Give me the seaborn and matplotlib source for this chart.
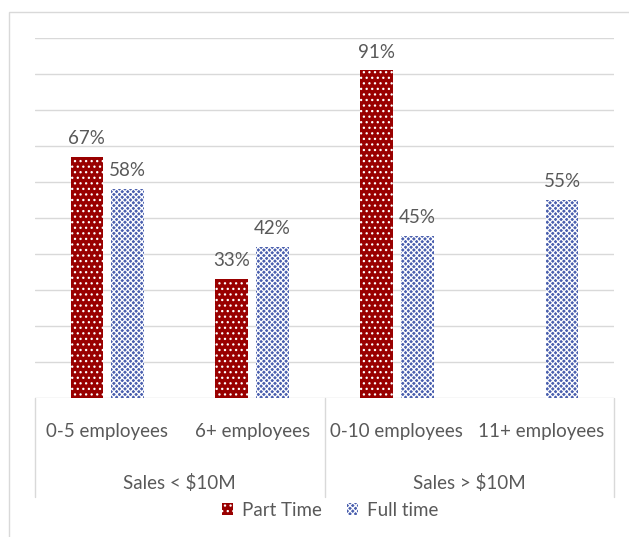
import matplotlib
matplotlib.use("Agg")
import matplotlib.pyplot as plt
import matplotlib.transforms as mtransforms
from matplotlib.patches import Patch, Rectangle
import numpy as np
import pandas as pd
import seaborn as sns

categories = ["0-5 employees", "6+ employees", "0-10 employees", "11+ employees"]
groups = ["Sales < $10M", "Sales > $10M"]
part_time = [67, 33, 91, np.nan]
full_time = [58, 42, 45, 55]
series = ["Part Time", "Full time"]

df = pd.DataFrame({
    "category": categories * 2,
    "value": part_time + full_time,
    "series": [series[0]] * 4 + [series[1]] * 4,
})

sns.set_theme(style="white")
plt.rcParams["font.family"] = ["Lato", "DejaVu Sans"]
plt.rcParams["hatch.linewidth"] = 0.9

text_color = "#595959"
grid_color = "#d9d9d9"
red = "#990000"
blue = "#4a5fae"
fs = 13.5

fig = plt.figure(figsize=(6.29, 5.37), dpi=100)
ax = fig.add_axes([35 / 629, 1 - 398 / 537, (614 - 35) / 629, 360 / 537])

sns.barplot(data=df, x="category", y="value", hue="series", order=categories,
            hue_order=series, palette=[red, blue], width=0.566, gap=0.2,
            ax=ax, legend=False, saturation=1, errorbar=None)

hatches = ["...", "xxxxxx"]
for cont, h in zip(ax.containers, hatches):
    for p in cont.patches:
        p.set_hatch(h)
        p.set_edgecolor("white")
        p.set_linewidth(0)
    labels = [f"{v:.0f}%" if np.isfinite(v) else "" for v in cont.datavalues]
    ax.bar_label(cont, labels=labels, padding=7, fontsize=fs, color=text_color)

ax.set_ylim(0, 100)
ax.set_xlim(-0.5, 3.5)
ax.set_yticks(np.arange(0, 101, 10))
ax.set_yticklabels([])
ax.yaxis.grid(True, color=grid_color, linewidth=1)
ax.set_axisbelow(True)
for s in ax.spines.values():
    s.set_visible(False)
ax.tick_params(axis="x", length=0, pad=18, labelsize=fs, labelcolor=text_color)
ax.tick_params(axis="y", length=0)
ax.set_xlabel("")
ax.set_ylabel("")

trans = mtransforms.blended_transform_factory(ax.transData, ax.transAxes)
for xv in [-0.5, 1.5, 3.5]:
    ax.plot([xv, xv], [0, -0.275], transform=trans, color=grid_color,
            linewidth=1, clip_on=False)
for gi, g in enumerate(groups):
    ax.text(gi * 2 + 0.5, -0.235, g, transform=trans, ha="center", va="center",
            fontsize=fs, color=text_color)

handles = [Patch(facecolor=red, edgecolor="white", hatch="...", linewidth=0),
           Patch(facecolor=blue, edgecolor="white", hatch="xxxxxx", linewidth=0)]
fig.legend(handles=handles, labels=series, loc="center", bbox_to_anchor=(0.525, 1 - 510 / 537),
           ncol=2, frameon=False, handlelength=0.6, handleheight=0.6, handletextpad=0.5,
           columnspacing=1.3, fontsize=fs, labelcolor=text_color)

fig.patches.append(Rectangle((9 / 629, -0.1), 1.2, (537 - 12) / 537 + 0.1,
                             transform=fig.transFigure, fill=False,
                             edgecolor=grid_color, linewidth=1))

fig.savefig("out.png", dpi=100, facecolor="white")
